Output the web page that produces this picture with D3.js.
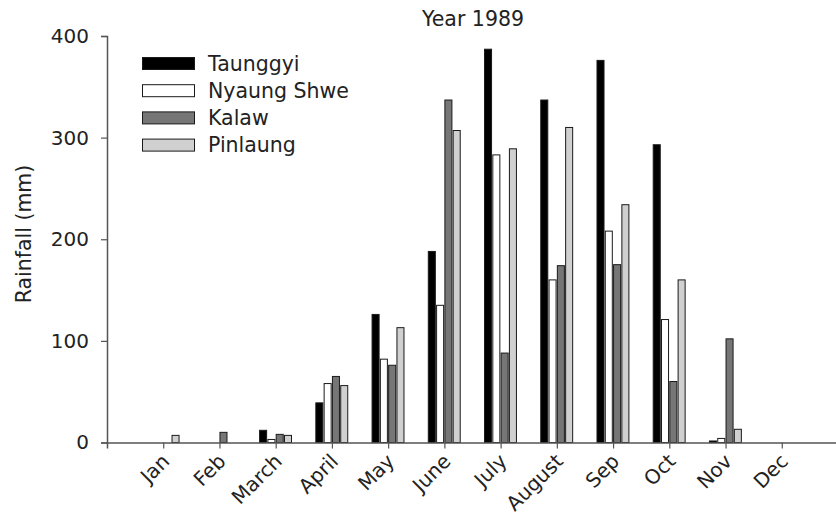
<!DOCTYPE html>
<html>
<head>
<meta charset="utf-8">
<script src="https://cdn.jsdelivr.net/npm/d3@7"></script>
<style>
  html, body { margin: 0; padding: 0; background: #fff; }
  svg text { font-family: "DejaVu Sans", "Liberation Sans", Arial, sans-serif; fill: #222; }
</style>
</head>
<body>
<svg id="chart" width="836" height="516"></svg>
<script>
// Monthly rainfall (mm), 1989
const months = ["Jan", "Feb", "March", "April", "May", "June", "July", "August", "Sep", "Oct", "Nov", "Dec"];
const stations = ["Taunggyi", "Nyaung Shwe", "Kalaw", "Pinlaung"];
const taunggyi   = [0, 0, 12, 39, 126, 188, 387, 337, 376, 293, 1.5, 0];
const nyaungShwe = [0, 0, 3, 58, 82, 135, 283, 160, 208, 121, 4, 0];
const kalaw      = [0, 10, 8, 65, 76, 337, 88, 174, 175, 60, 102, 0];
const pinlaung   = [7, 0, 7, 56, 113, 307, 289, 310, 234, 160, 13, 0];
const yTicks = [0, 100, 200, 300, 400];
const fills = ["#000000", "#ffffff", "#767676", "#d0d0d0"];

const series = [taunggyi, nyaungShwe, kalaw, pinlaung];

const svg = d3.select("#chart");

// Months sit at 1..12 on a linear scale running 0..13
const x = d3.scaleLinear().domain([0, 13]).range([107, 838]);
const y = d3.scaleLinear().domain([0, 400]).range([442.5, 36]);

const slot = 0.1475;   // distance between neighbouring bars, in months
const barW = 0.125;    // bar width, in months

// Bars
series.forEach((vals, si) => {
  svg.append("g")
    .selectAll("rect")
    .data(vals.map((v, mi) => ({ v, m: mi + 1 })).filter(d => d.v > 0))
    .join("rect")
    .attr("x", d => x(d.m + (si - 2) * slot) + 0.5)
    .attr("width", d => x(d.m + (si - 2) * slot + barW) - x(d.m + (si - 2) * slot))
    .attr("y", d => y(d.v))
    .attr("height", d => y(0) - y(d.v))
    .attr("fill", fills[si])
    .attr("stroke", "#1a1a1a")
    .attr("stroke-width", 1);
});

// Y axis
const yAxis = svg.append("g")
  .attr("transform", `translate(${x(0)},0)`)
  .call(d3.axisLeft(y).tickValues(yTicks).tickSize(6).tickPadding(12).tickFormat(d3.format("d")));
yAxis.select(".domain").attr("stroke", "#555").attr("stroke-width", 1.5);
yAxis.selectAll(".tick line").attr("stroke", "#555").attr("stroke-width", 1.2);
yAxis.selectAll(".tick text").attr("font-size", 20).attr("fill", "#222");

// X axis
const xAxis = svg.append("g")
  .attr("transform", `translate(0,${y(0)})`)
  .call(d3.axisBottom(x).tickValues(d3.range(1, 13)).tickSize(6).tickFormat(d => months[d - 1]));
xAxis.select(".domain").attr("stroke", "#555").attr("stroke-width", 1.5);
xAxis.selectAll(".tick line").attr("stroke", "#555").attr("stroke-width", 1.2);
xAxis.selectAll(".tick text")
  .attr("font-size", 20)
  .attr("fill", "#222")
  .attr("text-anchor", "end")
  .attr("dy", 0)
  .attr("y", 0)
  .attr("transform", "translate(7,20) rotate(-45)");

// Title
svg.append("text")
  .attr("x", 473)
  .attr("y", 26)
  .attr("text-anchor", "middle")
  .attr("font-size", 20.5)
  .text("Year 1989");

// Y axis label
svg.append("text")
  .attr("transform", "translate(31,234) rotate(-90)")
  .attr("text-anchor", "middle")
  .attr("font-size", 20.5)
  .text("Rainfall (mm)");

// Legend
const legend = svg.append("g").attr("transform", "translate(142,57)");
stations.forEach((name, i) => {
  const row = legend.append("g").attr("transform", `translate(0,${i * 27.2})`);
  row.append("rect")
    .attr("x", 0.5).attr("y", 0.5)
    .attr("width", 52).attr("height", 12)
    .attr("fill", fills[i])
    .attr("stroke", "#1a1a1a")
    .attr("stroke-width", 1);
  row.append("text")
    .attr("x", 66)
    .attr("y", 13.5)
    .attr("font-size", 20.5)
    .text(name);
});
</script>
</body>
</html>
